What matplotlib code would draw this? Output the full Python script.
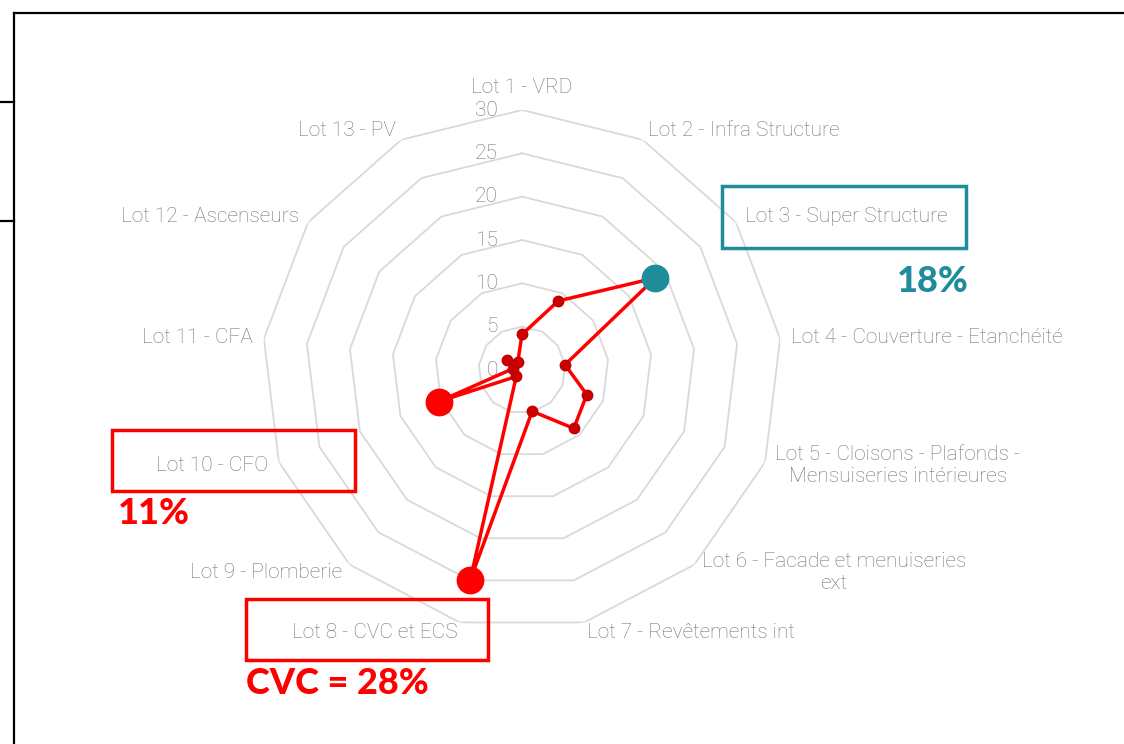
import numpy as np
import matplotlib.pyplot as plt
from matplotlib import transforms
from matplotlib.patches import Rectangle
from matplotlib.lines import Line2D

# Données du radar
lots = ["Lot 1 - VRD", "Lot 2 - Infra Structure", "Lot 3 - Super Structure",
        "Lot 4 - Couverture - Etanchéité",
        "Lot 5 - Cloisons - Plafonds -\nMensuiseries intérieures",
        "Lot 6 - Facade et menuiseries\next", "Lot 7 - Revêtements int",
        "Lot 8 - CVC et ECS", "Lot 9 - Plomberie", "Lot 10 - CFO",
        "Lot 11 - CFA", "Lot 12 - Ascenseurs", "Lot 13 - PV"]
valeurs = [4.1, 9.0, 18.7, 5.0, 8.0, 9.0, 4.9, 25.0, 1.0, 10.3, 1.1, 2.1, 1.05]
graduations = [0, 5, 10, 15, 20, 25, 30]
lots_majeurs = {2: "#1f8c9c", 7: "#ff0000", 9: "#ff0000"}

W, H = 1124, 744
GRIS = "#737373"
plt.rcParams['font.family'] = ['Roboto', 'DejaVu Sans']

fig = plt.figure(figsize=(W / 100, H / 100), dpi=100)
cx, cy, rpx = 522, 370, 260
ax = fig.add_axes([(cx - rpx) / W, 1 - (cy + rpx) / H, 2 * rpx / W, 2 * rpx / H],
                  projection='polar')
ax.set_theta_zero_location('N')
ax.set_theta_direction(-1)
ax.set_ylim(0, 30)
ax.set_xticks([])
ax.set_yticks([])
ax.grid(False)
ax.spines['polar'].set_visible(False)
ax.patch.set_alpha(0)

n = len(lots)
theta = np.arange(n) * 2 * np.pi / n
theta_ferme = np.append(theta, theta[0])

# grille polygonale
for g in graduations[1:]:
    ax.plot(theta_ferme, [g] * (n + 1), color="#d9d9d9", lw=1.3, zorder=1)

# étiquettes de graduation
off_g = transforms.offset_copy(ax.transData, fig=fig, x=-24, y=0, units='dots')
for g in graduations:
    ax.text(0, g, str(g), transform=off_g, ha='right', va='center',
            fontsize=15, color=GRIS, fontweight='light')

# série
v_ferme = valeurs + [valeurs[0]]
ax.plot(theta_ferme, v_ferme, color="#ff0000", lw=2.5, zorder=3)
for i, (t, v) in enumerate(zip(theta, valeurs)):
    if i in lots_majeurs:
        ax.plot(t, v, 'o', ms=19, color=lots_majeurs[i], mec=lots_majeurs[i], zorder=5)
    else:
        ax.plot(t, v, 'o', ms=7.5, color="#cc0000", mec="#c00000", zorder=4)

# étiquettes des lots
for t, lab in zip(theta, lots):
    s, c = np.sin(t), np.cos(t)
    if abs(s) < 1e-6:
        ha, va, dx, dy = 'center', 'bottom', 0, 13
    else:
        ha = 'left' if s > 0 else 'right'
        va = 'center'
        dx, dy = 11 * s, 10 * c
    tr = transforms.offset_copy(ax.transData, fig=fig, x=dx, y=dy, units='dots')
    ax.text(t, 30, lab, transform=tr, ha=ha, va=va, multialignment='center',
            fontsize=15, color=GRIS, fontweight='light', linespacing=1.2)

# cadres d'annotation
def cadre(x0, y0, x1, y1, couleur):
    fig.add_artist(Rectangle((x0 / W, 1 - y1 / H), (x1 - x0) / W, (y1 - y0) / H,
                             transform=fig.transFigure, fill=False,
                             ec=couleur, lw=2.5, zorder=6))

cadre(722, 186, 966, 248, "#1f8c9c")
cadre(112, 430, 355, 491, "#ff0000")
cadre(246, 599, 488, 660, "#ff0000")

police_pct = ['Lato', 'DejaVu Sans']
fig.text(969 / W, 1 - 281 / H, "18%", ha='right', va='center', fontsize=26,
         fontweight='black', color="#1f8c9c", family=police_pct)
fig.text(118 / W, 1 - 513 / H, "11%", ha='left', va='center', fontsize=26,
         fontweight='black', color="#ff0000", family=police_pct)
fig.text(246 / W, 1 - 683 / H, "CVC = 28%", ha='left', va='center', fontsize=26,
         fontweight='black', color="#ff0000", family=police_pct)

# bordures de la diapositive
for xs, ys in [([14, W], [12.5, 12.5]), ([14, 14], [12.5, H]),
               ([0, 14], [102, 102]), ([0, 14], [221, 221])]:
    fig.add_artist(Line2D([x / W for x in xs], [1 - y / H for y in ys],
                          transform=fig.transFigure, color="black", lw=1.6))

fig.savefig("out.png", dpi=100, facecolor="white")
